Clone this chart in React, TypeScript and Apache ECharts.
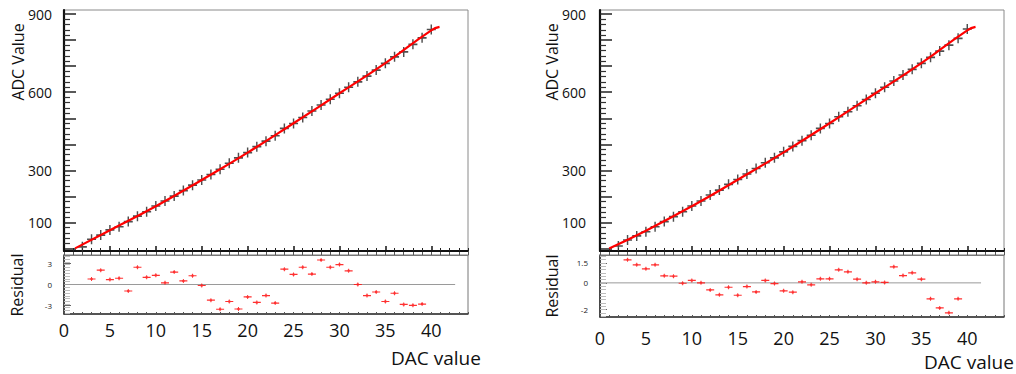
import React, { useEffect, useRef } from "react";
import * as echarts from "echarts";

// ---------- data ----------
const dacLeft = [2, 3, 4, 5, 6, 7, 8, 9, 10, 11, 12, 13, 14, 15, 16, 17, 18, 19, 20, 21, 22, 23, 24, 25, 26, 27, 28, 29, 30, 31, 32, 33, 34, 35, 36, 37, 38, 39, 40];
const adcLeft = [6, 35, 51, 71, 83, 103, 124, 141, 163, 182, 201, 222, 243, 263, 284, 304, 327, 348, 368, 391, 412, 433, 461, 480, 503, 528, 551, 573, 596, 619, 640, 662, 685, 711, 736, 755, 784, 809, 841];
const dacRight = [2, 3, 4, 5, 6, 7, 8, 9, 10, 11, 12, 13, 14, 15, 16, 17, 18, 19, 20, 21, 22, 23, 24, 25, 26, 27, 28, 29, 30, 31, 32, 33, 34, 35, 36, 37, 38, 39, 40];
const adcRight = [9, 32, 48, 64, 83, 103, 122, 141, 163, 182, 205, 224, 246, 265, 286, 307, 329, 348, 371, 392, 414, 435, 461, 480, 506, 525, 548, 572, 596, 619, 643, 666, 688, 711, 734, 758, 781, 807, 843];

const fitDacLeft = [1.2, 5, 10, 15, 20, 25, 30, 35, 40, 40.9];
const fitAdcLeft = [0, 70, 162, 263, 368, 481, 596, 712, 838, 851];
const fitDacRight = [1.0, 5, 10, 15, 20, 25, 30, 35, 40, 40.9];
const fitAdcRight = [0, 68, 162, 264, 369, 481, 596, 712, 838, 851];

const residDac = [3, 4, 5, 6, 7, 8, 9, 10, 11, 12, 13, 14, 15, 16, 17, 18, 19, 20, 21, 22, 23, 24, 25, 26, 27, 28, 29, 30, 31, 32, 33, 34, 35, 36, 37, 38, 39];
const residLeft = [0.78, 2.03, 0.69, 0.88, -0.92, 2.44, 1.01, 1.29, 0.23, 1.75, 0.51, 1.24, -0.14, -2.21, -3.5, -2.4, -3.46, -1.75, -2.53, -1.57, -2.63, 2.17, 1.43, 2.44, 1.47, 3.46, 2.44, 2.81, 1.94, 0, -1.57, -1.06, -2.4, -1.24, -2.81, -2.95, -2.76];
const residRight = [1.73, 1.35, 1.05, 1.35, 0.53, 0.5, -0.03, 0.18, 0, -0.53, -0.9, -0.33, -0.93, -0.28, -0.68, 0.18, -0.05, -0.6, -0.7, 0.08, -0.15, 0.3, 0.3, 0.98, 0.83, 0.28, 0, 0.08, 0.03, 1.2, 0.55, 0.75, 0.28, -1.2, -1.88, -2.25, -1.2];

const xTickLabels = [0, 5, 10, 15, 20, 25, 30, 35, 40];
const adcTickLabels = [100, 300, 600, 900];
const residTickLabelsLeft = [-3, 0, 3];
const residTickLabelsRight = [-2, 0, 1.5];
const zeroLineLeft = [0, 42.6];
const zeroLineRight = [0, 41.5];

// ---------- helpers (axis tick positions only) ----------
const steps = (a: number, b: number, s: number) => {
  const out: number[] = [];
  for (let v = a; v <= b + 1e-9; v += s) out.push(Math.round(v * 1000) / 1000);
  return out;
};
const FONT = "'Open Sans', 'Noto Sans', sans-serif";
const crossSymbol = "path://M0,4.2H10V5.8H0Z M4.2,0H5.8V10H4.2Z";
const residSymbol = "path://M0,1.4H10V2.6H0Z M4.4,0H5.6V4H4.4Z M3.6,1H6.4V3H3.6Z";

type PanelCfg = {
  left: number;
  resHeight: number;
  resMin: number;
  resMax: number;
  resLabels: number[];
  resMinorStep: number;
  xLabelMargin: number;
  yLabelMargin: number;
  dac: number[];
  adc: number[];
  fitDac: number[];
  fitAdc: number[];
  resid: number[];
  zeroLine: number[];
};

function buildPanel(p: number, c: PanelCfg) {
  const gTop = 2 * p;
  const gRes = 2 * p + 1;
  const xb = 4 * p;
  const yb = 4 * p;
  const grids = [
    { left: c.left, top: 10, width: 404, height: 241, show: true, borderColor: "#8a8a8a", borderWidth: 1, backgroundColor: "transparent" },
    { left: c.left, top: 255, width: 404, height: c.resHeight, show: true, borderColor: "#777", borderWidth: 1, backgroundColor: "transparent" },
  ];
  const xMajor = xTickLabels;
  const xMinor = steps(0, 44, 1).filter((v) => v % 5 !== 0);
  const xAxes = [
    {
      gridIndex: gTop, type: "value", min: 0, max: 44, position: "bottom",
      axisLine: { show: true, onZero: false, lineStyle: { color: "#111", width: 2 } },
      axisTick: { show: true, inside: true, length: 5, customValues: xMajor, lineStyle: { color: "#111", width: 1.5 } },
      axisLabel: { show: false }, splitLine: { show: false },
    },
    {
      gridIndex: gTop, type: "value", min: 0, max: 44, position: "bottom",
      axisLine: { show: false, onZero: false },
      axisTick: { show: true, inside: true, length: 3, customValues: xMinor, lineStyle: { color: "#222", width: 1 } },
      axisLabel: { show: false }, splitLine: { show: false },
    },
    {
      gridIndex: gRes, type: "value", min: 0, max: 44, position: "bottom",
      axisLine: { show: true, onZero: false, lineStyle: { color: "#333", width: 1.5 } },
      axisTick: { show: true, inside: true, length: 2, customValues: steps(0, 44, 1), lineStyle: { color: "#555", width: 1 } },
      axisLabel: { show: true, customValues: xTickLabels, margin: c.xLabelMargin, fontSize: 18, fontFamily: FONT, color: "#111" },
      splitLine: { show: false },
    },
    {
      gridIndex: gRes, type: "value", min: 0, max: 44, position: "top",
      axisLine: { show: true, onZero: false, lineStyle: { color: "#777", width: 1 } },
      axisTick: { show: true, inside: false, length: 3, customValues: steps(0, 44, 1), lineStyle: { color: "#555", width: 1 } },
      axisLabel: { show: false }, splitLine: { show: false },
    },
  ];
  const adcMajor = steps(0, 900, 100);
  const adcMinor = steps(20, 900, 20).filter((v) => v % 100 !== 0);
  const resMinor = steps(Math.ceil(c.resMin / c.resMinorStep) * c.resMinorStep, c.resMax, c.resMinorStep);
  const yAxes = [
    {
      gridIndex: gTop, type: "value", min: -10, max: 916, position: "left",
      axisLine: { show: true, onZero: false, lineStyle: { color: "#111", width: 2.2 } },
      axisTick: { show: true, inside: true, length: 12, customValues: adcMajor, lineStyle: { color: "#222", width: 1.5 } },
      axisLabel: { show: true, customValues: adcTickLabels, margin: c.yLabelMargin, fontSize: 14, fontFamily: FONT, color: "#111" },
      splitLine: { show: false },
    },
    {
      gridIndex: gTop, type: "value", min: -10, max: 916, position: "left",
      axisLine: { show: false, onZero: false },
      axisTick: { show: true, inside: true, length: 6, customValues: adcMinor, lineStyle: { color: "#333", width: 1.2 } },
      axisLabel: { show: false }, splitLine: { show: false },
    },
    {
      gridIndex: gRes, type: "value", min: c.resMin, max: c.resMax, position: "left",
      axisLine: { show: true, onZero: false, lineStyle: { color: "#222", width: 1.5 } },
      axisTick: { show: true, inside: true, length: 7, customValues: c.resLabels, lineStyle: { color: "#666", width: 1 } },
      axisLabel: { show: true, customValues: c.resLabels, margin: 12, fontSize: 8, fontFamily: FONT, color: "#222" },
      splitLine: { show: false },
    },
    {
      gridIndex: gRes, type: "value", min: c.resMin, max: c.resMax, position: "left",
      axisLine: { show: false, onZero: false },
      axisTick: { show: true, inside: true, length: 6, customValues: resMinor, lineStyle: { color: "#bdbdbd", width: 1 } },
      axisLabel: { show: false }, splitLine: { show: false },
    },
  ];
  const series = [
    {
      type: "scatter", xAxisIndex: xb, yAxisIndex: yb,
      data: c.dac.map((x, i) => [x, c.adc[i]]),
      symbol: crossSymbol, symbolSize: [9, 10],
      itemStyle: { color: "#303030", opacity: 0.85 }, z: 3,
    },
    {
      type: "line", xAxisIndex: xb, yAxisIndex: yb,
      data: c.fitDac.map((x, i) => [x, c.fitAdc[i]]),
      smooth: true, showSymbol: false, symbol: "none",
      lineStyle: { color: "#ff0000", width: 2.2 }, z: 4,
    },
    {
      type: "line", xAxisIndex: xb + 2, yAxisIndex: yb + 2,
      data: c.zeroLine.map((x) => [x, 0]),
      showSymbol: false, symbol: "none",
      lineStyle: { color: "#9a9a9a", width: 1 }, z: 2,
    },
    {
      type: "scatter", xAxisIndex: xb + 2, yAxisIndex: yb + 2,
      data: residDac.map((x, i) => [x, c.resid[i]]),
      symbol: residSymbol, symbolSize: [8, 4],
      itemStyle: { color: "#ff1a1a", opacity: 0.9 }, z: 3,
    },
  ];
  return { grids, xAxes, yAxes, series };
}

function vText(text: string, x: number, y: number, size: number) {
  return {
    type: "text", x, y, rotation: Math.PI / 2,
    style: { text, x: 0, y: 0, fontSize: size, fontFamily: FONT, fill: "#111", textAlign: "center", textVerticalAlign: "middle" },
  };
}
function hText(text: string, x: number, y: number, size: number) {
  return {
    type: "text", x, y,
    style: { text, x: 0, y: 0, fontSize: size, fontFamily: FONT, fill: "#111", textAlign: "center", textVerticalAlign: "middle" },
  };
}

export default function App() {
  const ref = useRef<HTMLDivElement>(null);
  useEffect(() => {
    if (!ref.current) return;
    const chart = echarts.init(ref.current, undefined, { renderer: "svg" });
    const L = buildPanel(0, {
      left: 64, resHeight: 59, resMin: -4.17, resMax: 4.17, resLabels: residTickLabelsLeft, resMinorStep: 0.4,
      xLabelMargin: 7, yLabelMargin: 12,
      dac: dacLeft, adc: adcLeft, fitDac: fitDacLeft, fitAdc: fitAdcLeft, resid: residLeft, zeroLine: zeroLineLeft,
    });
    const R = buildPanel(1, {
      left: 600, resHeight: 62, resMin: -2.56, resMax: 2.09, resLabels: residTickLabelsRight, resMinorStep: 0.25,
      xLabelMargin: 12, yLabelMargin: 14,
      dac: dacRight, adc: adcRight, fitDac: fitDacRight, fitAdc: fitAdcRight, resid: residRight, zeroLine: zeroLineRight,
    });
    chart.setOption({
      animation: false,
      backgroundColor: "#ffffff",
      grid: [...L.grids, ...R.grids],
      xAxis: [...L.xAxes, ...R.xAxes],
      yAxis: [...L.yAxes, ...R.yAxes],
      series: [...L.series, ...R.series],
      graphic: [
        vText("ADC Value", 17.5, 62, 16),
        vText("Residual", 17, 285, 16),
        hText("DAC value", 436, 358, 19),
        vText("ADC Value", 552, 62, 16),
        vText("Residual", 552, 286, 16),
        hText("DAC value", 969, 362, 19),
      ],
    });
    return () => chart.dispose();
  }, []);
  return <div ref={ref} style={{ position: "fixed", left: 0, top: 0, width: 1016, height: 374 }} />;
}
